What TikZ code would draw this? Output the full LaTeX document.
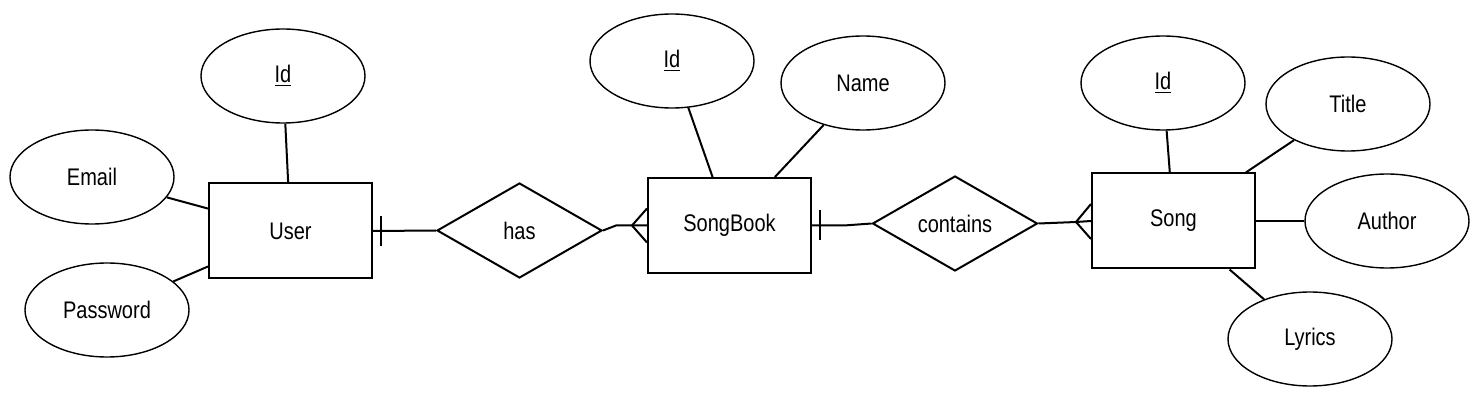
\documentclass[tikz,border=0pt]{standalone}
\usepackage{fontspec}
\setmainfont{Liberation Sans}
\usetikzlibrary{shapes.geometric,calc}
\newcommand{\lbl}[1]{\scalebox{1}[1.2]{#1}}
\tikzset{
  attr/.style={ellipse, draw, line width=0.7pt, minimum width=82pt, minimum height=47pt, inner sep=0pt, font=\fontsize{10}{12}\selectfont},
  ent/.style={rectangle, draw, line width=1pt, minimum width=81.5pt, minimum height=47.5pt, inner sep=0pt, font=\fontsize{10}{12}\selectfont},
  rel/.style={diamond, draw, line width=1pt, minimum width=82.5pt, minimum height=47.5pt, inner sep=0pt, font=\fontsize{10}{12}\selectfont},
  conn/.style={line width=1pt},
}
\begin{document}
\begin{tikzpicture}[x=0.5pt,y=-0.5pt]
\useasboundingbox (0,0) rectangle (1480,401);
% entities
\node[ent] (user) at (290.5,231) {\lbl{User}};
\node[ent] (songbook) at (729.5,225.5) {\lbl{SongBook}};
\node[ent] (song) at (1173.5,221) {\lbl{Song}};
% relationships
\node[rel] (has) at (519.5,230.5) {\lbl{has}};
\node[rel] (contains) at (955,223.5) {\lbl{contains}};
% attributes
\node[attr] (uid) at (283,76) {\lbl{\underline{Id}}};
\node[attr] (email) at (92,177) {\lbl{Email}};
\node[attr] (pwd) at (107,310) {\lbl{Password}};
\node[attr] (sbid) at (672,61) {\lbl{\underline{Id}}};
\node[attr] (name) at (863,83) {\lbl{Name}};
\node[attr] (sid) at (1163,83) {\lbl{\underline{Id}}};
\node[attr] (title) at (1348,104) {\lbl{Title}};
\node[attr] (author) at (1387,221) {\lbl{Author}};
\node[attr] (lyrics) at (1310,339) {\lbl{Lyrics}};
% attribute connectors
\draw[conn] (uid) -- (user);
\draw[conn] (email) -- (user);
\draw[conn] (pwd) -- (user);
\draw[conn] (sbid) -- (songbook);
\draw[conn] (name) -- (songbook);
\draw[conn] (sid) -- (song);
\draw[conn] (title) -- (song);
\draw[conn] (author) -- (song);
\draw[conn] (lyrics) -- (song);
% user -- has (one)
\draw[conn] (user.east) -- (has.west);
\draw[conn] ($(user.east)+(8,-15)$) -- ($(user.east)+(8,15)$);
% has -- songbook (many)
\coordinate (hb) at ($(songbook.west)+(-15,0)$);
\draw[conn] (has.east) -- ++(13,-5) -- (songbook.west);
\draw[conn] ($(songbook.west)+(0,-17)$) -- (hb) -- ($(songbook.west)+(0,17)$);
% songbook -- contains (one)
\draw[conn] (songbook.east) -- ++(32,0) -- (contains.west);
\draw[conn] ($(songbook.east)+(8,-15)$) -- ($(songbook.east)+(8,15)$);
% contains -- song (many)
\coordinate (cs) at ($(song.west)+(-15,1)$);
\draw[conn] (contains.east) -- (cs) -- (song.west);
\draw[conn] ($(song.west)+(0,-17)$) -- (cs) -- ($(song.west)+(0,18)$);
\end{tikzpicture}
\end{document}
